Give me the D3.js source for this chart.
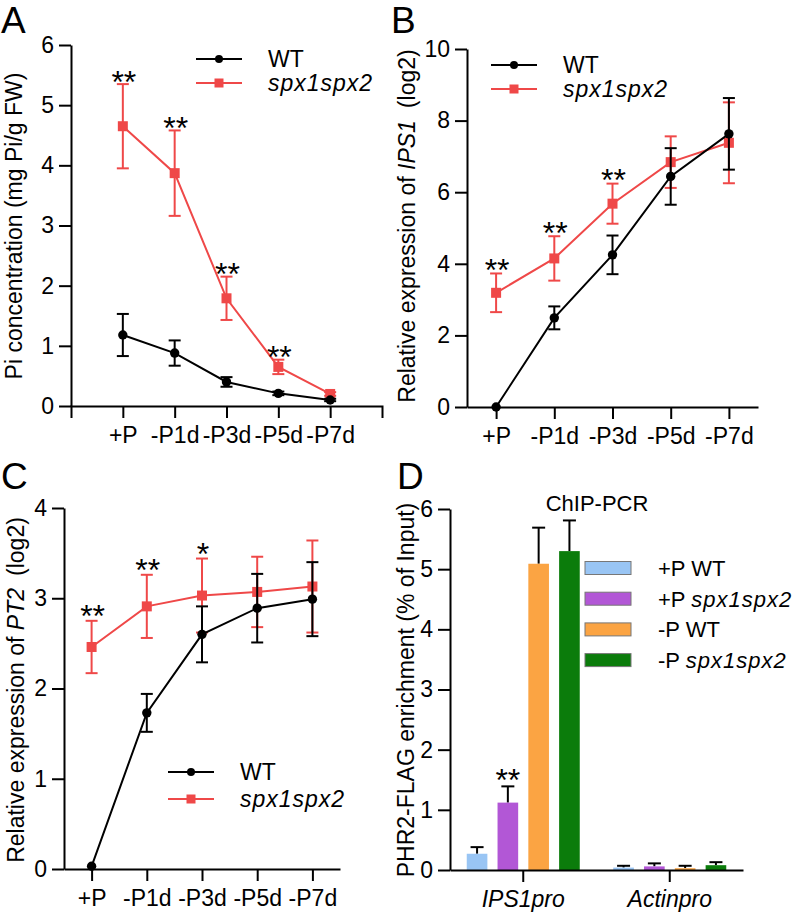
<!DOCTYPE html>
<html>
<head>
<meta charset="utf-8">
<script src="https://cdn.jsdelivr.net/npm/d3@7"></script>
<style>
  html, body { margin: 0; padding: 0; background: #fff; }
  svg { display: block; font-family: "Liberation Sans", Arial, Helvetica, sans-serif; }
  .axis path, .axis line { stroke: #000; stroke-width: 2px; }
  .axis text { font-size: 23px; fill: #000; font-family: "Liberation Sans", Arial, sans-serif; }
</style>
</head>
<body>
<svg id="chart" width="796" height="913"></svg>
<script>
// ---------- Data ----------
const categories = ["+P", "-P1d", "-P3d", "-P5d", "-P7d"];

// Panel A: Pi concentration (mg Pi/g FW)
const piWT = [1.18, 0.88, 0.40, 0.21, 0.10];
const piWTErr = [0.35, 0.21, 0.08, 0.03, 0.02];
const piSpx = [4.65, 3.87, 1.79, 0.65, 0.20];
const piSpxErr = [0.70, 0.71, 0.36, 0.12, 0.03];
const starsA = ["**", "**", "**", "**", ""];
const ticksA = [0, 1, 2, 3, 4, 5, 6];

// Panel B: Relative expression of IPS1 (log2)
const ipsWT = [0.00, 2.49, 4.25, 6.44, 7.63];
const ipsWTErr = [0.00, 0.32, 0.54, 0.79, 1.00];
const ipsSpx = [3.19, 4.15, 5.68, 6.84, 7.38];
const ipsSpxErr = [0.54, 0.62, 0.56, 0.72, 1.13];
const starsB = ["**", "**", "**", "", ""];
const ticksB = [0, 2, 4, 6, 8, 10];

// Panel C: Relative expression of PT2 (log2)
const pt2WT = [0.03, 1.73, 2.60, 2.89, 2.99];
const pt2WTErr = [0.00, 0.21, 0.31, 0.38, 0.41];
const pt2Spx = [2.46, 2.91, 3.03, 3.07, 3.13];
const pt2SpxErr = [0.29, 0.35, 0.41, 0.39, 0.51];
const starsC = ["**", "**", "*", "", ""];
const ticksC = [0, 1, 2, 3, 4];

// Panel D: ChIP-PCR, PHR2-FLAG enrichment (% of Input)
const groupsD = ["IPS1pro", "Actinpro"];
const seriesD = ["+P WT", "+P spx1spx2", "-P WT", "-P spx1spx2"];
const ips1proVals = [0.27, 1.12, 5.09, 5.30];
const ips1proErr = [0.11, 0.27, 0.60, 0.51];
const actinproVals = [0.04, 0.06, 0.03, 0.08];
const actinproErr = [0.03, 0.05, 0.04, 0.05];
const starsD = [["", "**", "", ""], ["", "", "", ""]];
const ticksD = [0, 1, 2, 3, 4, 5, 6];
const colorsD = ["#99c5f4", "#b257d6", "#fba443", "#0b7c0b"];

const RED = "#ef4848";
const BLACK = "#000";

const svg = d3.select("#chart");
const FONT = "\"Liberation Sans\", Arial, sans-serif";
const STAR_SIZE = 32;

function panelLetter(t, x, y) {
  svg.append("text").attr("x", x).attr("y", y).attr("font-size", 37)
    .attr("font-family", FONT).text(t);
}

function yTitle(parts, x, yc) {
  const t = svg.append("text")
    .attr("transform", `translate(${x},${yc}) rotate(-90)`)
    .attr("text-anchor", "middle").attr("font-size", 23).attr("font-family", FONT);
  parts.forEach(p => {
    const s = t.append("tspan").text(p.t);
    if (p.i) s.attr("font-style", "italic");
    if (p.dx) s.attr("dx", p.dx);
  });
}

function star(x, yCenter, txt) {
  svg.append("text").attr("x", x).attr("y", yCenter + STAR_SIZE * 0.58)
    .attr("text-anchor", "middle").attr("font-size", STAR_SIZE).attr("font-family", FONT).text(txt);
}

function linePanel(cfg) {
  const x = d3.scalePoint().domain(categories).range([cfg.x0, cfg.x1]).padding(cfg.pad);
  const y = d3.scaleLinear().domain([0, cfg.ymax]).range([cfg.yb, cfg.yt]);

  const xa = svg.append("g").attr("class", "axis")
    .attr("transform", `translate(0,${cfg.yb})`)
    .call(d3.axisBottom(x).tickSize(12).tickSizeOuter(cfg.endTicks ? 12 : 0).tickPadding(8));
  xa.selectAll("text").attr("dy", "0.75em");

  svg.append("g").attr("class", "axis")
    .attr("transform", `translate(${cfg.x0},0)`)
    .call(d3.axisLeft(y).tickValues(cfg.ticks).tickFormat(d3.format("d")).tickSize(12).tickSizeOuter(0).tickPadding(5));

  const series = [
    { vals: cfg.spx, err: cfg.spxErr, color: RED, shape: "square" },
    { vals: cfg.wt, err: cfg.wtErr, color: BLACK, shape: "circle" }
  ];
  const line = d3.line().x((d, i) => x(categories[i])).y(d => y(d));
  series.forEach(s => {
    const g = svg.append("g");
    g.append("path").datum(s.vals).attr("d", line)
      .attr("fill", "none").attr("stroke", s.color).attr("stroke-width", 2);
    s.vals.forEach((v, i) => {
      const cx = x(categories[i]);
      const e = s.err[i];
      if (e > 0) {
        const top = y(v + e), bot = y(v - e);
        g.append("line").attr("x1", cx).attr("x2", cx).attr("y1", top).attr("y2", bot)
          .attr("stroke", s.color).attr("stroke-width", 2);
        [top, bot].forEach(yy => g.append("line").attr("x1", cx - 6).attr("x2", cx + 6)
          .attr("y1", yy).attr("y2", yy).attr("stroke", s.color).attr("stroke-width", 2));
      }
      if (s.shape === "circle") {
        g.append("circle").attr("cx", cx).attr("cy", y(v)).attr("r", 4.7).attr("fill", s.color);
      } else {
        g.append("rect").attr("x", cx - 5).attr("y", y(v) - 5).attr("width", 10).attr("height", 10).attr("fill", s.color);
      }
    });
  });

  // significance stars
  cfg.stars.forEach((st, i) => {
    if (!st) return;
    const top = y(cfg.spx[i] + cfg.spxErr[i]);
    star(x(categories[i]) + 1, top - cfg.starOff, st);
  });

  // legend
  const L = cfg.legend;
  const items = [
    { label: "WT", color: BLACK, shape: "circle", italic: false },
    { label: "spx1spx2", color: RED, shape: "square", italic: true }
  ];
  items.forEach((it, k) => {
    const ly = L.y + k * L.dy;
    svg.append("line").attr("x1", L.x).attr("x2", L.x + 46).attr("y1", ly).attr("y2", ly)
      .attr("stroke", it.color).attr("stroke-width", 2);
    if (it.shape === "circle") svg.append("circle").attr("cx", L.x + 23).attr("cy", ly).attr("r", 4).attr("fill", it.color);
    else svg.append("rect").attr("x", L.x + 18.5).attr("y", ly - 4.5).attr("width", 9).attr("height", 9).attr("fill", it.color);
    const t = svg.append("text").attr("x", L.tx).attr("y", ly + 8).attr("font-size", 23).attr("font-family", FONT)
      .text(it.label);
    if (it.italic) t.attr("font-style", "italic").attr("letter-spacing", 1);
  });
}

// ---------- Panel A ----------
panelLetter("A", 1, 33);
linePanel({
  x0: 71, x1: 382, pad: 1, endTicks: true, yb: 406, yt: 45, ymax: 6, ticks: ticksA,
  wt: piWT, wtErr: piWTErr, spx: piSpx, spxErr: piSpxErr, stars: starsA, starOff: 10,
  legend: { x: 196, y: 59, dy: 24, tx: 268 }
});
yTitle([{ t: "Pi concentration (mg Pi/g FW)" }], 22, 226);

// ---------- Panel B ----------
panelLetter("B", 391, 33);
linePanel({
  x0: 467, x1: 758, pad: 0.5, endTicks: false, yb: 407, yt: 49, ymax: 10, ticks: ticksB,
  wt: ipsWT, wtErr: ipsWTErr, spx: ipsSpx, spxErr: ipsSpxErr, stars: starsB, starOff: 11,
  legend: { x: 491, y: 65, dy: 24, tx: 563 }
});
yTitle([{ t: "Relative expression of " }, { t: "IPS1", i: true }, { t: "(log2)", dx: 12 }], 415, 226);

// ---------- Panel C ----------
panelLetter("C", 1, 489);
linePanel({
  x0: 64, x1: 340, pad: 0.5, endTicks: false, yb: 869, yt: 508, ymax: 4, ticks: ticksC,
  wt: pt2WT, wtErr: pt2WTErr, spx: pt2Spx, spxErr: pt2SpxErr, stars: starsC, starOff: 12,
  legend: { x: 168, y: 772, dy: 27, tx: 240 }
});
yTitle([{ t: "Relative expression of " }, { t: "PT2", i: true }, { t: "(log2)", dx: 12 }], 24, 690);

// ---------- Panel D ----------
panelLetter("D", 397, 489);
(function () {
  const yb = 870, yt = 509, x0 = 450, x1 = 743;
  const gx = d3.scaleBand().domain(groupsD).range([x0, x1]).paddingInner(0).paddingOuter(0);
  const sx = d3.scaleBand().domain(seriesD).range([-56.5, 56.5]).paddingInner(0.33);
  const y = d3.scaleLinear().domain([0, 6]).range([yb, yt]);
  const vals = [ips1proVals, actinproVals];
  const errs = [ips1proErr, actinproErr];

  groupsD.forEach((g, gi) => {
    const c = gx(g) + gx.bandwidth() / 2;
    seriesD.forEach((s, si) => {
      const v = vals[gi][si], e = errs[gi][si];
      const bx = c + sx(s);
      const mid = bx + sx.bandwidth() / 2;
      svg.append("line").attr("x1", mid).attr("x2", mid).attr("y1", y(v)).attr("y2", y(v + e))
        .attr("stroke", "#000").attr("stroke-width", 2);
      svg.append("line").attr("x1", mid - 6.5).attr("x2", mid + 6.5).attr("y1", y(v + e)).attr("y2", y(v + e))
        .attr("stroke", "#000").attr("stroke-width", 2);
      svg.append("rect").attr("x", bx).attr("y", y(v)).attr("width", sx.bandwidth())
        .attr("height", yb - y(v)).attr("fill", colorsD[si]);
      const st = starsD[gi][si];
      if (st) star(mid, y(v + e) - 14, st);
    });
  });

  const xa = svg.append("g").attr("class", "axis").attr("transform", `translate(0,${yb})`)
    .call(d3.axisBottom(gx).tickSize(12).tickSizeOuter(0).tickPadding(8));
  xa.selectAll("text").attr("dy", "0.75em").attr("font-style", "italic").attr("font-size", 24);

  svg.append("g").attr("class", "axis").attr("transform", `translate(${x0},0)`)
    .call(d3.axisLeft(y).tickValues(ticksD).tickFormat(d3.format("d")).tickSize(12).tickSizeOuter(0).tickPadding(5));

  svg.append("text").attr("x", 597).attr("y", 511).attr("text-anchor", "middle")
    .attr("font-size", 22).attr("font-family", FONT).text("ChIP-PCR");

  seriesD.forEach((s, si) => {
    const ly = 568 + si * 30.7;
    svg.append("rect").attr("x", 585).attr("y", ly - 6.5).attr("width", 46).attr("height", 13)
      .attr("fill", colorsD[si]).attr("stroke", "#777").attr("stroke-width", 1);
    const parts = s.split(" ");
    const t = svg.append("text").attr("x", 658).attr("y", ly + 8).attr("font-size", 22).attr("font-family", FONT);
    t.append("tspan").text(parts[0] + " ");
    const s2 = t.append("tspan").text(parts[1]);
    if (parts[1] !== "WT") s2.attr("font-style", "italic").attr("letter-spacing", 1);
  });

  yTitle([{ t: "PHR2-FLAG enrichment (% of Input)" }], 414, 690);
})();
</script>
</body>
</html>
